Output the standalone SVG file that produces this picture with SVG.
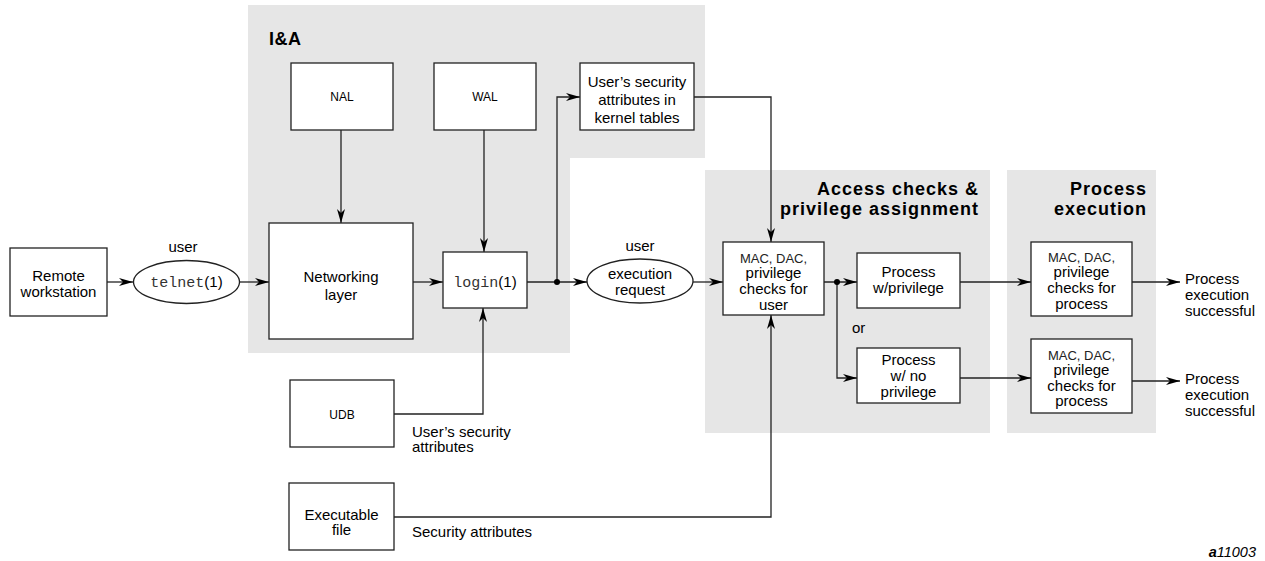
<svg xmlns="http://www.w3.org/2000/svg" width="1265" height="561" viewBox="0 0 1265 561">
  <defs>
    <marker id="arrow" markerUnits="userSpaceOnUse" markerWidth="14" markerHeight="8" refX="14" refY="4" orient="auto">
      <path d="M0,0 L14,4 L0,8 L4,4 z" fill="#000"/>
    </marker>
    <style>
      .region { fill: #e6e6e6; stroke: none; }
      .box { fill: #fff; stroke: #222; stroke-width: 1.3; }
      .wire { fill: none; stroke: #222; stroke-width: 1.3; }
      .arr { marker-end: url(#arrow); }
      .dot { fill: #000; }
      text { font-family: "Liberation Sans", Arial, sans-serif; fill: #000; }
      .t { font-size: 15px; }
      .c { text-anchor: middle; }
      .sm { font-size: 12px; }
      .mac { font-size: 13px; fill: #222; }
      .mono { font-family: "Liberation Mono", "Courier New", monospace; fill: #333; }
      .title { font-size: 18px; font-weight: bold; letter-spacing: 1px; }
      .r { text-anchor: end; }
    </style>
  </defs>

  <!-- shaded stages -->
  <g id="stage-ia">
    <polygon class="region" points="248,5 705,5 705,158 570,158 570,353 248,353"/>
    <text x="269" y="45" class="title" style="letter-spacing:0.5px">I&amp;A</text>
  </g>
  <g id="stage-access">
    <rect class="region" x="705" y="170" width="285" height="263"/>
    <text class="title r" x="979" y="194.5">Access checks &amp;</text>
    <text class="title r" x="979" y="215">privilege assignment</text>
  </g>
  <g id="stage-exec">
    <rect class="region" x="1007" y="170" width="149" height="263"/>
    <text class="title r" x="1147" y="194.5">Process</text>
    <text class="title r" x="1147" y="215">execution</text>
  </g>

  <!-- connectors -->
  <g id="connectors">
    <line class="wire arr" x1="107" y1="282" x2="133" y2="282"/>
    <line class="wire arr" x1="240" y1="282" x2="269" y2="282"/>
    <line class="wire arr" x1="341" y1="130" x2="341" y2="223"/>
    <line class="wire arr" x1="484" y1="130" x2="484" y2="252"/>
    <line class="wire arr" x1="413" y1="282" x2="443" y2="282"/>
    <line class="wire arr" x1="527" y1="282" x2="587" y2="282"/>
    <polyline class="wire arr" points="557,282 557,97 580,97"/>
    <polyline class="wire arr" points="694,97 771,97 771,242"/>
    <line class="wire arr" x1="693" y1="282" x2="723" y2="282"/>
    <polyline class="wire arr" points="394,414 483,414 483,308"/>
    <polyline class="wire arr" points="394,517 771,517 771,315"/>
    <line class="wire arr" x1="824" y1="282" x2="857" y2="282"/>
    <polyline class="wire arr" points="837,282 837,378 857,378"/>
    <line class="wire arr" x1="960" y1="282" x2="1031" y2="282"/>
    <line class="wire arr" x1="960" y1="378" x2="1031" y2="378"/>
    <line class="wire arr" x1="1132" y1="282" x2="1180" y2="282"/>
    <line class="wire arr" x1="1132" y1="381" x2="1180" y2="381"/>
    <circle class="dot" cx="557" cy="282" r="3"/>
    <circle class="dot" cx="837" cy="282" r="3"/>
    <text class="t" x="412" y="437">User’s security</text>
    <text class="t" x="412" y="452">attributes</text>
    <text class="t" x="412" y="537">Security attributes</text>
    <text class="t" x="852" y="333">or</text>
  </g>

  <!-- nodes -->
  <g id="remote-workstation">
    <rect class="box" x="10" y="248" width="97" height="68"/>
    <text class="t c" x="58.5" y="280.5">Remote</text>
    <text class="t c" x="58.5" y="297">workstation</text>
  </g>
  <g id="telnet">
    <text class="t c" x="183" y="252">user</text>
    <ellipse class="box" cx="186.5" cy="282" rx="53" ry="21.5"/>
    <text class="t c" x="186.5" y="287"><tspan class="mono">telnet</tspan>(1)</text>
  </g>
  <g id="nal">
    <rect class="box" x="291" y="63" width="102" height="67"/>
    <text class="sm c" x="342" y="101">NAL</text>
  </g>
  <g id="wal">
    <rect class="box" x="434" y="63" width="102" height="67"/>
    <text class="sm c" x="485" y="101">WAL</text>
  </g>
  <g id="kernel-tables">
    <rect class="box" x="580" y="63" width="114" height="67"/>
    <text class="t c" x="637" y="87">User’s security</text>
    <text class="t c" x="637" y="105">attributes in</text>
    <text class="t c" x="637" y="123">kernel tables</text>
  </g>
  <g id="networking-layer">
    <rect class="box" x="269" y="223" width="144" height="116"/>
    <text class="t c" x="341" y="282">Networking</text>
    <text class="t c" x="341" y="300">layer</text>
  </g>
  <g id="login">
    <rect class="box" x="443" y="252" width="84" height="56"/>
    <text class="t c" x="485" y="287"><tspan class="mono">login</tspan>(1)</text>
  </g>
  <g id="execution-request">
    <text class="t c" x="640" y="251">user</text>
    <ellipse class="box" cx="640" cy="281" rx="53" ry="22"/>
    <text class="t c" x="640" y="279">execution</text>
    <text class="t c" x="640" y="295">request</text>
  </g>
  <g id="udb">
    <rect class="box" x="290" y="380" width="104" height="67"/>
    <text class="sm c" x="342" y="419">UDB</text>
  </g>
  <g id="executable-file">
    <rect class="box" x="289" y="483" width="105" height="67"/>
    <text class="t c" x="341.5" y="520">Executable</text>
    <text class="t c" x="341.5" y="535">file</text>
  </g>
  <g id="user-checks">
    <rect class="box" x="723" y="242" width="101" height="73"/>
    <text class="mac c" x="773.5" y="262.5">MAC, DAC,</text>
    <text class="t c" x="773.5" y="277.5">privilege</text>
    <text class="t c" x="773.5" y="293.5">checks for</text>
    <text class="t c" x="773.5" y="309.5">user</text>
  </g>
  <g id="process-privilege">
    <rect class="box" x="857" y="253" width="103" height="55"/>
    <text class="t c" x="908.5" y="277">Process</text>
    <text class="t c" x="908.5" y="293">w/privilege</text>
  </g>
  <g id="process-no-privilege">
    <rect class="box" x="857" y="348" width="103" height="55"/>
    <text class="t c" x="908.5" y="365">Process</text>
    <text class="t c" x="908.5" y="381">w/ no</text>
    <text class="t c" x="908.5" y="397">privilege</text>
  </g>
  <g id="process-checks-1">
    <rect class="box" x="1031" y="242" width="101" height="74"/>
    <text class="mac c" x="1081.5" y="262">MAC, DAC,</text>
    <text class="t c" x="1081.5" y="277">privilege</text>
    <text class="t c" x="1081.5" y="293">checks for</text>
    <text class="t c" x="1081.5" y="308.5">process</text>
  </g>
  <g id="process-checks-2">
    <rect class="box" x="1031" y="339" width="101" height="74"/>
    <text class="mac c" x="1081.5" y="359.5">MAC, DAC,</text>
    <text class="t c" x="1081.5" y="375">privilege</text>
    <text class="t c" x="1081.5" y="390.5">checks for</text>
    <text class="t c" x="1081.5" y="406">process</text>
  </g>
  <g id="result-1">
    <text class="t" x="1185" y="284">Process</text>
    <text class="t" x="1185" y="300">execution</text>
    <text class="t" x="1185" y="316">successful</text>
  </g>
  <g id="result-2">
    <text class="t" x="1185" y="384">Process</text>
    <text class="t" x="1185" y="400">execution</text>
    <text class="t" x="1185" y="416">successful</text>
  </g>

  <text x="1256" y="557" class="r" style="font-size:14.5px;font-style:italic"><tspan font-weight="bold">a</tspan>11003</text>
</svg>
